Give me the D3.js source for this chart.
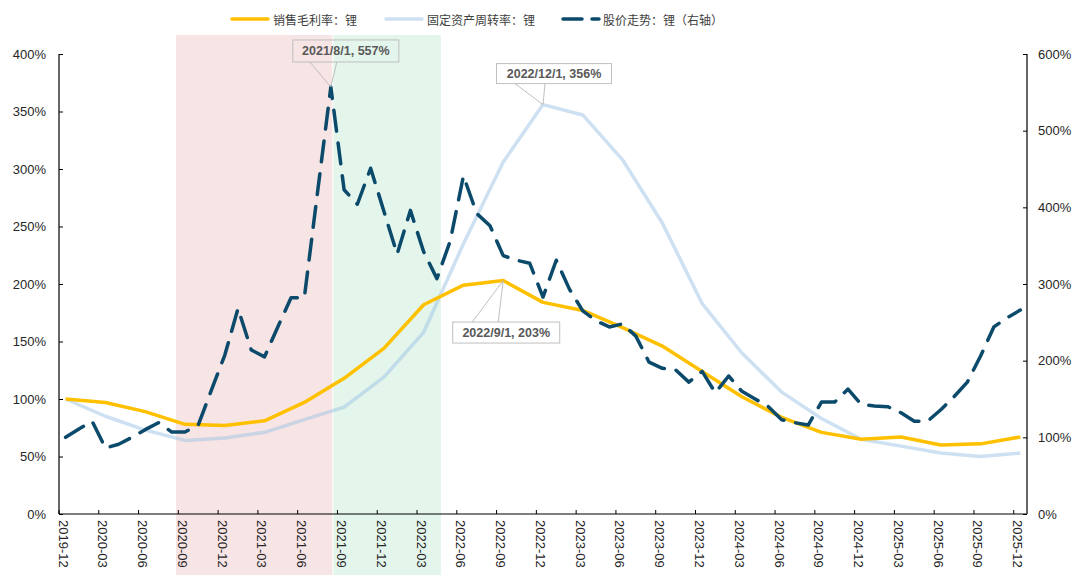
<!DOCTYPE html>
<html><head><meta charset="utf-8">
<script src="https://cdn.jsdelivr.net/npm/d3@7"></script>
<style>
html,body{margin:0;padding:0;background:#fff;}
svg{display:block;}
</style></head>
<body>
<svg id="chart" width="1088" height="575"></svg>
<script>
// ---------- DATA ----------
const startMonth = "2019-12";
const endMonth = "2025-12";
// Quarterly series (2019-12 ... 2025-12)
const quarterLabels = ["2019-12","2020-03","2020-06","2020-09","2020-12","2021-03","2021-06","2021-09","2021-12","2022-03","2022-06","2022-09","2022-12","2023-03","2023-06","2023-09","2023-12","2024-03","2024-06","2024-09","2024-12","2025-03","2025-06","2025-09","2025-12"];
const grossMargin = [100,97,89,78,77,81,97,118,144,182,199,203,184,177,162,146,124,102,84,71,65,67,60,61,67];
const assetTurnover = [100,85,73,64,66,71,82,93,119,158,235,306,356,347,308,253,183,140,106,83,65,59,53,50,53];
// Monthly stock trend (right axis), 2019-12 ... 2025-12
const stockPrice = [100,111,121,86,91,100,110,119,107,107,116,162,207,268,214,205,244,282,282,420,557,423,404,451,395,339,396,342,307,356,441,392,376,337,331,327,283,331,293,265,252,244,248,232,198,190,188,172,186,158,180,160,150,140,123,119,116,146,146,163,143,141,140,132,121,121,136,153,172,206,244,256,266];
const leftTicks = [0,50,100,150,200,250,300,350,400];
const rightTicks = [0,100,200,300,400,500,600];
const seriesNames = ["销售毛利率：锂","固定资产周转率：锂","股价走势：锂（右轴）"];
// shaded periods, in fractional month index
const shadeRanges = [{from: 8.32, to: 20.15, fill: "#f7e4e4"}, {from: 20.15, to: 28.3, fill: "#e4f5ec"}];
const annotations = [
  {series: "stock", label: "2021-08", text: "2021/8/1, 557%"},
  {series: "turnover", label: "2022-12", text: "2022/12/1, 356%"},
  {series: "margin", label: "2022-09", text: "2022/9/1, 203%"}
];

// ---------- SETUP ----------
const svg = d3.select("#chart");
const W = 1088, H = 575;
const m = {left: 59, right: 1027, top: 54, bottom: 514};
const parse = d3.timeParse("%Y-%m");
const fmt = d3.timeFormat("%Y-%m");
const months = d3.timeMonth.range(parse(startMonth), d3.timeMonth.offset(parse(endMonth), 1)).map(fmt);

const xb = d3.scaleBand().domain(months).range([m.left, m.right]).padding(0);
const bw = xb.bandwidth();
const xc = d => xb(d) + bw / 2;
const xi = d3.scaleLinear().domain([0, months.length]).range([m.left + bw/2, m.right + bw/2]);
const yL = d3.scaleLinear().domain([0, 400]).range([m.bottom, m.top]);
const yR = d3.scaleLinear().domain([0, 600]).range([m.bottom, m.top]);

const COL_Y = "#FFC000", COL_B = "#9dc3e6", COL_D = "#0b4a6b";

// shading
svg.append("g").selectAll("rect").data(shadeRanges).join("rect")
  .attr("x", d => xi(d.from)).attr("width", d => xi(d.to) - xi(d.from))
  .attr("y", 35).attr("height", H - 35).attr("fill", d => d.fill);
// thin white separator between shades
svg.append("line").attr("x1", xi(shadeRanges[0].to)).attr("x2", xi(shadeRanges[0].to))
  .attr("y1", 35).attr("y2", H).attr("stroke", "#fff").attr("stroke-width", 1);

// axes
const axisColor = "#000";
const gx = svg.append("g").attr("transform", `translate(0,${m.bottom})`);
gx.append("line").attr("x1", m.left).attr("x2", m.right).attr("stroke", axisColor).attr("stroke-width", 1.2);
const tickMonths = months.filter((d, i) => i % 3 === 0);
gx.selectAll("line.t").data(tickMonths).join("line").attr("class", "t")
  .attr("x1", d => xb(d)).attr("x2", d => xb(d)).attr("y1", 0).attr("y2", -4)
  .attr("stroke", axisColor).attr("stroke-width", 1);
gx.selectAll("text").data(tickMonths).join("text")
  .attr("transform", d => `translate(${xb(d) + 4},6) rotate(90)`)
  .attr("dominant-baseline", "central").attr("text-anchor", "start")
  .attr("font-family", "Liberation Sans, Arial, sans-serif").attr("font-size", 13).attr("fill", "#262626")
  .text(d => d);

const yAxisL = d3.axisLeft(yL).tickValues(leftTicks).tickSize(-4).tickPadding(13).tickFormat(d => d + "%");
const gl = svg.append("g").attr("transform", `translate(${m.left},0)`).call(yAxisL);
const yAxisR = d3.axisRight(yR).tickValues(rightTicks).tickSize(-4).tickPadding(11).tickFormat(d => d + "%");
const gr = svg.append("g").attr("transform", `translate(${m.right},0)`).call(yAxisR);
[gl, gr].forEach(g => {
  g.select(".domain").attr("stroke", axisColor).attr("stroke-width", 1.2).attr("d", g === gl ? `M0,${m.top}V${m.bottom}` : `M0,${m.top}V${m.bottom}`);
  g.selectAll(".tick line").attr("stroke", axisColor);
  g.selectAll(".tick text").attr("font-family", "Liberation Sans, Arial, sans-serif").attr("font-size", 13).attr("fill", "#262626");
});

// lines
const lineQ = (arr, y) => d3.line().x((d, i) => xc(quarterLabels[i])).y(d => y(d))(arr);
svg.append("path").attr("d", lineQ(assetTurnover, yL)).attr("fill", "none")
  .attr("stroke", COL_B).attr("stroke-opacity", 0.5).attr("stroke-width", 3.5).attr("stroke-linejoin", "round");
svg.append("path").attr("d", lineQ(grossMargin, yL)).attr("fill", "none")
  .attr("stroke", COL_Y).attr("stroke-width", 3.5).attr("stroke-linejoin", "round");
const lineM = d3.line().x((d, i) => xc(months[i])).y(d => yR(d));
svg.append("path").attr("d", lineM(stockPrice)).attr("fill", "none")
  .attr("stroke", COL_D).attr("stroke-width", 3.5).attr("stroke-linecap", "round").attr("stroke-linejoin", "round")
  .attr("stroke-dasharray", "21,12");

// annotations
const boxOffsets = {
  stock: {dx: 15, dy: -36, w: 106, h: 22, below: false, l1: -21, l2: 6},
  turnover: {dx: 11, dy: -31, w: 115, h: 20, below: false, l1: -28, l2: 2},
  margin: {dx: 3, dy: 52, w: 107, h: 21, below: true, l1: -31, l2: -5}
};
annotations.forEach(a => {
  let px, py;
  if (a.series === "stock") { px = xc(a.label); py = yR(stockPrice[months.indexOf(a.label)]); }
  else if (a.series === "turnover") { px = xc(a.label); py = yL(assetTurnover[quarterLabels.indexOf(a.label)]); }
  else { px = xc(a.label); py = yL(grossMargin[quarterLabels.indexOf(a.label)]); }
  const o = boxOffsets[a.series];
  const cx = px + o.dx;
  const by = o.below ? py + o.dy - o.h/2 : py + o.dy - o.h/2;
  const bx = cx - o.w/2;
  const edgeY = o.below ? by : by + o.h;
  const g = svg.append("g");
  g.append("path").attr("d", `M${px + o.l1},${edgeY}L${px},${py}L${px + o.l2},${edgeY}`)
    .attr("fill", "none").attr("stroke", "#bfbfbf").attr("stroke-width", 1);
  g.append("rect").attr("x", bx).attr("y", by).attr("width", o.w).attr("height", o.h)
    .attr("fill", "none").attr("stroke", "#bfbfbf").attr("stroke-width", 1);
  g.append("text").attr("x", cx).attr("y", by + o.h/2).attr("text-anchor", "middle").attr("dominant-baseline", "central")
    .attr("font-family", "Liberation Sans, Arial, sans-serif").attr("font-weight", "bold").attr("font-size", 12.5)
    .attr("fill", "#595959").text(a.text);
});

// legend
const legend = [
  {name: seriesNames[0], x1: 232, x2: 268, tx: 273, stroke: COL_Y, op: 1, dash: null},
  {name: seriesNames[1], x1: 386, x2: 422, tx: 427, stroke: COL_B, op: 0.5, dash: null},
  {name: seriesNames[2], x1: 563, x2: 599, tx: 603, stroke: COL_D, op: 1, dash: "19,10"}
];
const lg = svg.append("g");
legend.forEach(l => {
  lg.append("line").attr("x1", l.x1).attr("x2", l.x2).attr("y1", 19).attr("y2", 19)
    .attr("stroke", l.stroke).attr("stroke-opacity", l.op).attr("stroke-width", 3.5)
    .attr("stroke-linecap", "round").attr("stroke-dasharray", l.dash);
  lg.append("text").attr("x", l.tx).attr("y", 19).attr("dominant-baseline", "central")
    .attr("font-family", "Noto Sans CJK SC, sans-serif").attr("font-size", 12).attr("fill", "#404040").text(l.name);
});
</script>
</body></html>
